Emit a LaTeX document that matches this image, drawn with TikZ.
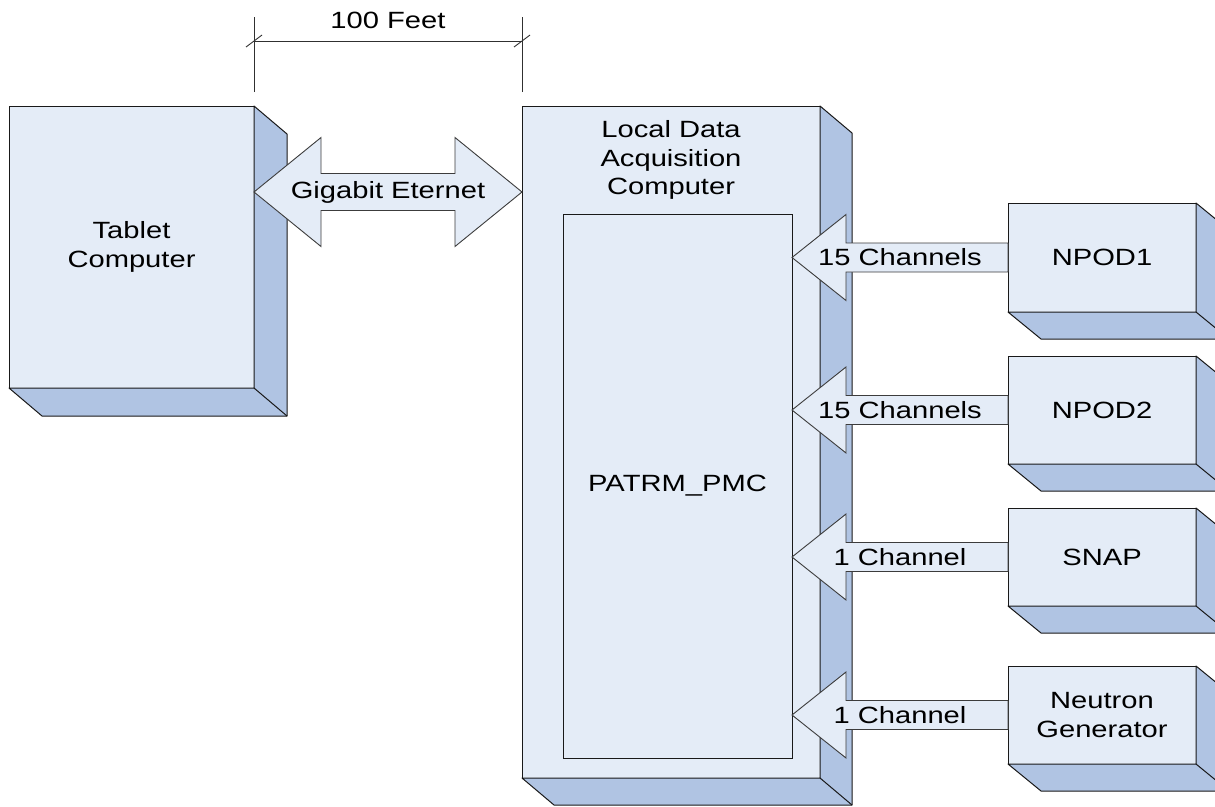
\documentclass[tikz,border=0pt]{standalone}
\usepackage{fontspec}
\newfontfamily\lab{Liberation Sans}[FakeStretch=1.24]
\usetikzlibrary{calc}
\definecolor{front}{RGB}{228,236,247}
\definecolor{side}{RGB}{176,196,227}
\definecolor{edge}{RGB}{25,25,25}
\tikzset{
  face/.style={draw=edge, fill=front, line width=1pt, inner sep=0pt, outer sep=0pt,
    font=\lab\fontsize{23.5}{28.5}\selectfont, align=center},
  sideface/.style={draw=edge, fill=side, line width=1pt, line join=round},
  barrow/.style={draw=edge!85, fill=front, line width=0.9pt, line join=miter},
  txt/.style={font=\lab\fontsize{23.5}{28.5}\selectfont, inner sep=0pt, align=center},
  dim/.style={draw=edge!90, line width=0.9pt},
}
\newcommand\depthbox[3]{% node, dx, dy
  \path[sideface] (#1.north east) -- ++(#2,#3) -- ($(#1.south east)+(#2,#3)$)
    -- ($(#1.south west)+(#2,#3)$) -- (#1.south west) -- (#1.south east) -- cycle;
  \draw[sideface, fill=none] (#1.south east) -- ++(#2,#3);
}
\newcommand\chan[3]{% target, source, label
  \draw[barrow] let \p1=(#1.east |- #2.west), \p2=(#2.west) in
    (\p1) -- (\x1+54pt,\y1+43pt) -- (\x1+54pt,\y1+14.5pt) -- (\x2,\y1+14.5pt)
    -- (\x2,\y1-14.5pt) -- (\x1+54pt,\y1-14.5pt) -- (\x1+54pt,\y1-43pt) -- cycle
    (\x1+108pt,\y1) node[txt] {#3};
}
\begin{document}
\begin{tikzpicture}[x=1pt,y=-1pt]
\useasboundingbox (0,0) rectangle (1215,806);
\clip (0,0) rectangle (1215,806);

% Tablet
\node[face, minimum width=245pt, minimum height=282pt] (tablet) at (131.5,247) {Tablet\\Computer};
\depthbox{tablet}{33}{28}

% Local DAQ computer
\node[face, minimum width=298pt, minimum height=672pt] (ldac) at (671,442) {};
\depthbox{ldac}{32}{27}
\node[txt] (ldactxt) at (671,160) {Local Data\\Acquisition\\Computer};
\node[face, minimum width=229pt, minimum height=544pt] (patrm) at (677.5,486) {PATRM\_PMC};

% sources
\node[face, minimum width=188pt, minimum height=109pt] (npod1) at (1102,257.5) {NPOD1};
\depthbox{npod1}{33}{27}
\node[face, minimum width=188pt, minimum height=108pt] (npod2) at (1102,410) {NPOD2};
\depthbox{npod2}{33}{27}
\node[face, minimum width=188pt, minimum height=98pt] (snap) at (1102,557) {SNAP};
\depthbox{snap}{33}{27}
\node[face, minimum width=188pt, minimum height=98pt] (ng) at (1102,715) {Neutron\\Generator};
\depthbox{ng}{33}{27}

% channel arrows
\chan{patrm}{npod1}{15 Channels}
\chan{patrm}{npod2}{15 Channels}
\chan{patrm}{snap}{1 Channel}
\chan{patrm}{ng}{1 Channel}

% gigabit double arrow
\coordinate (gl) at ($(tablet.north east)+(0,86)$);
\coordinate (gr) at (ldac.west |- gl);
\draw[barrow] let \p1=(gl), \p2=(gr) in
  (\p1) -- (\x1+67pt,\y1+54.5pt) -- (\x1+67pt,\y1+18.5pt) -- (\x2-67pt,\y1+18.5pt)
  -- (\x2-67pt,\y1+54.5pt) -- (\p2) -- (\x2-67pt,\y1-54.5pt) -- (\x2-67pt,\y1-18.5pt)
  -- (\x1+67pt,\y1-18.5pt) -- (\x1+67pt,\y1-54.5pt) -- cycle;
\node[txt] (gbe) at ($(gl)!0.5!(gr)$) {Gigabit Eternet};

% dimension
\coordinate (e1b) at ($(tablet.north east)+(0,-14)$);
\coordinate (e1t) at ($(tablet.north east)+(0,-89)$);
\coordinate (e2b) at ($(ldac.north west)+(0,-14)$);
\coordinate (e2t) at ($(ldac.north west)+(0,-89)$);
\draw[dim] (e1b) -- (e1t);
\draw[dim] (e2b) -- (e2t);
\coordinate (d1) at ($(tablet.north east)+(0,-65)$);
\coordinate (d2) at (ldac.north west |- d1);
\draw[dim] (d1) -- (d2);
\draw[dim] ($(d1)+(-8,6)$) -- ($(d1)+(8,-6)$);
\draw[dim] ($(d2)+(-8,6)$) -- ($(d2)+(8,-6)$);
\node[txt] (feet) at ($(d1)!0.5!(d2)+(0,-21)$) {100 Feet};
\end{tikzpicture}
\end{document}
